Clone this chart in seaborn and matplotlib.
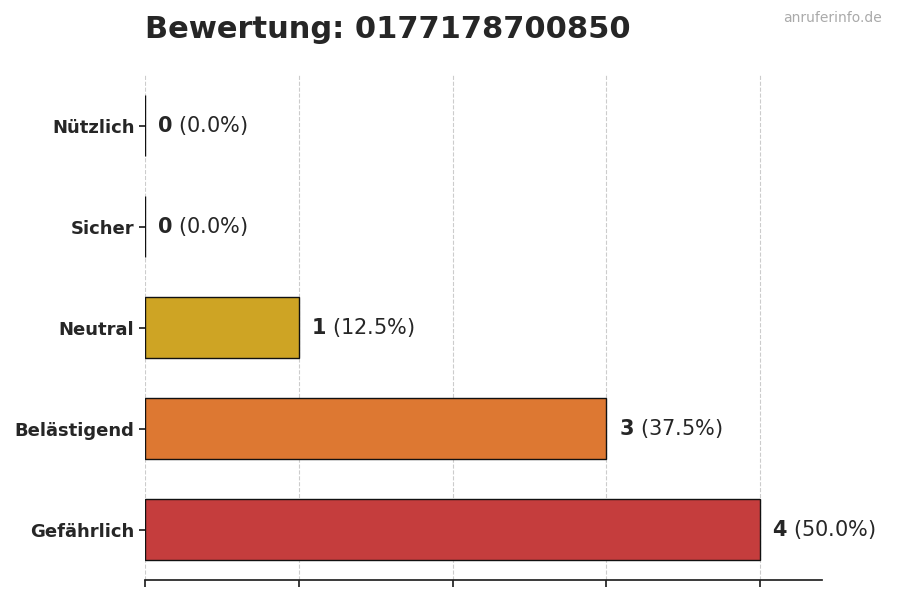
import matplotlib
matplotlib.use("Agg")
import matplotlib.pyplot as plt
import seaborn as sns
import pandas as pd

categories = ["Nützlich", "Sicher", "Neutral", "Belästigend", "Gefährlich"]
counts = [0, 0, 1, 3, 4]
percents = [0.0, 0.0, 12.5, 37.5, 50.0]
colors = ["#16a34a", "#22c55e", "#eab308", "#f97316", "#dc2626"]

sns.set_theme(style="white")
plt.rcParams['font.family'] = ['DejaVu Sans']

df = pd.DataFrame({"cat": categories, "n": counts})
fig, ax = plt.subplots(figsize=(9, 6), dpi=100)
fig.subplots_adjust(left=0.161, right=0.913, top=0.875, bottom=0.033)
sns.barplot(data=df, x="n", y="cat", hue="cat", palette=colors, order=categories,
            width=0.6, edgecolor="#111111", linewidth=1, legend=False, ax=ax)
ax.set_xlim(0, 4.4)
ax.set_xticks([0, 1, 2, 3, 4])
ax.set_xticklabels([])
ax.grid(axis="x", linestyle="--", color="#cccccc", linewidth=0.8)
ax.set_axisbelow(True)
ax.set_xlabel("")
ax.set_ylabel("")
for s in ["top", "right", "left"]:
    ax.spines[s].set_visible(False)
ax.spines["bottom"].set_color("#222222")
ax.tick_params(axis="x", length=5, color="#222222", bottom=True)
ax.tick_params(axis="y", length=4, left=True, color="#222222")
for lab in ax.get_yticklabels():
    lab.set_fontweight("bold")
    lab.set_fontsize(13)
for i, (c, p) in enumerate(zip(counts, percents)):
    ax.text(c + 0.08, i, f"$\\bf{{{c}}}$ ({p:.1f}%)", va="center", ha="left", fontsize=15)
fig.text(0.161, 0.95, "Bewertung: 0177178700850", fontsize=22, fontweight="bold", ha="left", va="center")
fig.text(0.98, 0.97, "anruferinfo.de", fontsize=10, color="#aaaaaa", ha="right", va="center")
fig.savefig("out.png", dpi=100)
